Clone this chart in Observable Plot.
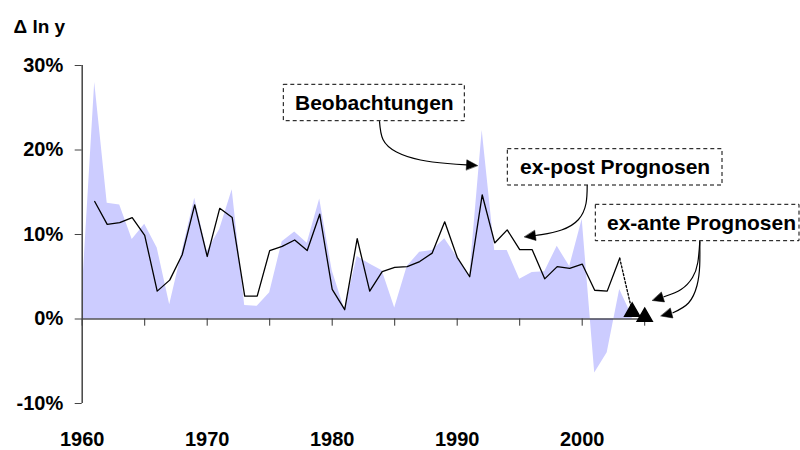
<!DOCTYPE html>
<html>
<head>
<meta charset="utf-8">
<script src="https://cdn.jsdelivr.net/npm/d3@7"></script>
<script src="https://cdn.jsdelivr.net/npm/@observablehq/plot@0.6"></script>
<style>
  body { margin: 0; background: #fff; }
  #chart svg { font-family: "Liberation Sans", Arial, sans-serif; overflow: visible; }
</style>
</head>
<body>
<div id="chart"></div>
<script>
// Observations (Beobachtungen), Δ ln y in %, 1960–2004
const obsYears = d3.range(1960, 2005);
const obsValues = [3.0, 28.0, 13.7, 13.5, 9.4, 11.2, 8.4, 1.7, 8.0, 14.3,
  8.0, 10.6, 15.3, 1.6, 1.5, 3.1, 9.15, 10.3, 8.95, 14.2,
  5.7, 1.1, 7.4, 6.5, 5.7, 1.3, 6.2, 7.9, 8.1, 9.5,
  7.3, 5.1, 22.3, 8.1, 8.1, 4.7, 5.5, 5.6, 8.6, 6.2,
  11.8, -6.4, -4.0, 3.5, 0.3];

// ex-post forecasts, 1961–2003
const expostYears = d3.range(1961, 2004);
const expostValues = [13.9, 11.2, 11.4, 12.0, 9.9, 3.3, 4.6, 7.6, 13.5, 7.4,
  13.1, 12.0, 2.7, 2.7, 8.1, 8.6, 9.35, 8.1, 12.4, 3.5,
  1.1, 9.5, 3.3, 5.6, 6.1, 6.2, 6.8, 7.8, 11.5, 7.3,
  5.0, 14.7, 9.0, 10.55, 8.2, 8.2, 4.75, 6.2, 6.0, 6.5,
  3.4, 3.3, 7.2];

// ex-ante forecasts
const exanteYears = [2004, 2005];
const exanteValues = [0.85, 0.25];

// Axis ticks
const yTicks = [-10, 0, 10, 20, 30];
const xLabelTicks = [1960, 1970, 1980, 1990, 2000];
const xMinorTicks = d3.range(1960, 2006, 5);

// Annotation texts
const annotationLabels = ["Beobachtungen", "ex-post Prognosen", "ex-ante Prognosen"];

const obs = obsYears.map((year, i) => ({year, value: obsValues[i]}));
const expost = expostYears.map((year, i) => ({year, value: expostValues[i]}));
const exante = exanteYears.map((year, i) => ({year, value: exanteValues[i]}));
const bridge = [expost[expost.length - 1], exante[0]];

// ---- annotation layout (given in pixels, converted to data units) ----
const M = {top: 65, bottom: 47, left: 81.7, right: 155.8, W: 800, H: 450};
const xDom = [1960, 2005], yDom = [-10, 30];
const pxPerYear = (M.W - M.left - M.right) / (xDom[1] - xDom[0]);
const pxPerUnit = (M.H - M.top - M.bottom) / (yDom[1] - yDom[0]);
const toX = px => xDom[0] + (px - M.left) / pxPerYear;
const toY = py => yDom[1] - (py - M.top) / pxPerUnit;

const boxesPx = [
  [283.3, 464.3, 84.3, 120.7, 373.8, 102.5],
  [507.3, 722.0, 148.7, 185.0, 614.6, 166.9],
  [595.3, 799.0, 204.3, 240.7, 701.0, 222.5]
];
const boxes = boxesPx.map((b, i) => ({
  label: annotationLabels[i], x1: toX(b[0]), x2: toX(b[1]), y1: toY(b[2]), y2: toY(b[3]), tx: toX(b[4]), ty: toY(b[5])
}));

// leader curves (px) and arrow tips (px)
const leadersPx = [
  {pts: [[379, 121], [382.5, 139], [396, 151.5], [420, 159.5], [447, 163], [466, 164.3]], tip: [477, 165]},
  {pts: [[586.7, 185], [585.5, 203], [578, 219], [561, 229.5], [541, 234.2], [535, 235]], tip: [524, 236.5]},
  {pts: [[699.3, 241], [697.3, 262], [692, 277], [680.5, 289], [663.5, 296.3]], tip: [652, 300]},
  {pts: [[699.3, 241], [699.2, 265], [696.5, 285], [688, 302.5], [672.5, 312.3]], tip: [660.5, 315.5]}
];
const leaderPoints = leadersPx.flatMap((l, id) =>
  l.pts.map(([px, py]) => ({id, x: toX(px), y: toY(py)}))
);
const heads = leadersPx.map((l) => {
  const [ax, ay] = l.pts[l.pts.length - 1];
  const [tx, ty] = l.tip;
  return {x: toX(tx), y: toY(ty), angle: Math.atan2(tx - ax, -(ty - ay)) * 180 / Math.PI};
});
const filledHead = {
  draw(context, l, r) {
    context.moveTo(0, -l);
    context.lineTo(-r, 0);
    context.lineTo(r, 0);
    context.closePath();
  }
};

const chart = Plot.plot({
  width: M.W,
  height: M.H,
  marginTop: M.top,
  marginBottom: M.bottom,
  marginLeft: M.left,
  marginRight: M.right,
  x: {domain: xDom},
  y: {domain: yDom},
  style: {fontSize: "20px", fontWeight: "bold", color: "#000", background: "#fff"},
  marks: [
    Plot.areaY(obs, {x: "year", y: "value", fill: "#ccccff"}),
    Plot.line(expost, {x: "year", y: "value", stroke: "#000", strokeWidth: 1.3}),
    Plot.line(bridge, {x: "year", y: "value", stroke: "#000", strokeWidth: 1.3, strokeDasharray: "2,2"}),
    Plot.ruleY([0], {x1: 1960, x2: 2005, stroke: "#000", strokeWidth: 1.2}),
    Plot.ruleX(xMinorTicks, {x: d => d, y1: 0, y2: -0.85, stroke: "#333"}),
    Plot.ruleX([1960], {y1: -10, y2: 30, stroke: "#444", strokeWidth: 1.5}),
    Plot.axisY({ticks: yTicks, tickSize: 7, tickPadding: 12, tickFormat: d => d + "%", label: null, stroke: "#444"}),
    Plot.axisX({ticks: xLabelTicks, tickSize: 0, tickPadding: 28, tickFormat: d => String(d), label: null}),
    Plot.dot(exante, {x: "year", y: "value", symbol: "triangle", r: 5.6, fill: "#000", stroke: "#000"}),
    Plot.line(leaderPoints, {x: "x", y: "y", z: "id", curve: "natural", stroke: "#000", strokeWidth: 1.2}),
    Plot.vector(heads, {x: "x", y: "y", rotate: "angle", length: 11, r: 5, anchor: "end", shape: filledHead, fill: "#000", stroke: "#000", strokeWidth: 0.5}),
    Plot.rect(boxes, {x1: "x1", x2: "x2", y1: "y1", y2: "y2", fill: "#fff", stroke: "#000", strokeWidth: 1, strokeDasharray: "4,3"}),
    Plot.text(boxes, {x: "tx", y: "ty", text: "label", fontSize: 21, fontWeight: "bold", fill: "#000", lineAnchor: "middle"}),
    Plot.text(["Δ ln y"], {frameAnchor: "top-left", textAnchor: "start", lineAnchor: "bottom", dx: -68.7, dy: -33, fontSize: 19, fontWeight: "bold", fill: "#000"})
  ]
});
document.getElementById("chart").append(chart);
</script>
</body>
</html>
